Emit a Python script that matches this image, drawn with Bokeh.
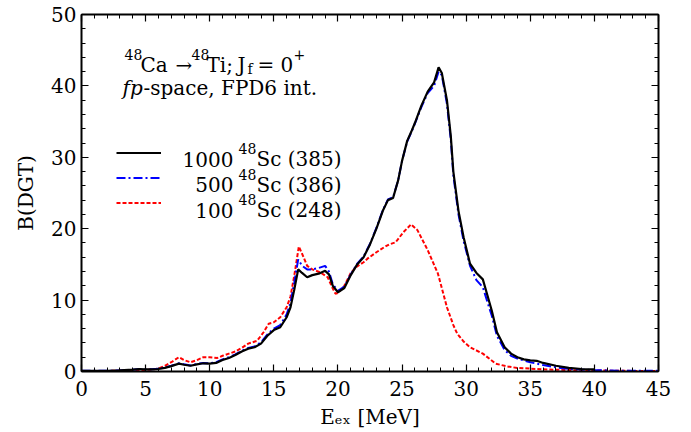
from bokeh.plotting import figure
from bokeh.models import (Range1d, LinearAxis, Label, Legend, LegendItem,
                          FixedTicker, ColumnDataSource)
from bokeh.embed import file_html
from bokeh.resources import INLINE

# ---------------- data ----------------
e_1000 = [0, 1, 2, 3, 4, 4.5, 5, 5.5, 6, 6.5, 7, 7.6, 8, 8.5, 9, 9.5, 10, 10.5,
          11, 11.5, 12, 12.5, 13, 13.5, 14, 14.5, 15, 15.5, 16, 16.3, 16.6, 16.9,
          17.2, 17.6, 18, 18.5, 19, 19.3, 19.6, 20, 20.5, 21, 21.5, 22, 22.5, 23,
          23.5, 23.9, 24.3, 24.7, 25, 25.4, 25.7, 26, 26.5, 27, 27.5, 27.85, 28.1,
          28.5, 28.8, 29, 29.4, 29.8, 30.3, 30.8, 31.3, 31.7, 32, 32.4, 33, 33.5,
          34, 34.5, 35, 35.5, 36, 37, 38, 39, 40]
b_1000 = [0.1, 0.1, 0.1, 0.15, 0.25, 0.35, 0.3, 0.3, 0.35, 0.5, 0.75, 1.1, 0.95,
          0.8, 1.0, 1.15, 1.1, 1.2, 1.6, 1.9, 2.3, 2.8, 3.2, 3.4, 3.9, 5.0, 5.8,
          6.2, 7.6, 9.0, 11.5, 14.3, 13.8, 13.2, 13.5, 13.7, 14.1, 13.6, 12.0,
          11.1, 11.7, 13.5, 15.0, 16.0, 17.8, 20.0, 22.5, 24.0, 24.3, 26.8, 29.5,
          32.3, 33.5, 34.8, 37.2, 39.2, 40.5, 42.6, 41.8, 38.0, 33.0, 28.0, 22.5,
          18.8, 15.1, 13.8, 12.9, 10.4, 8.5, 5.5, 3.4, 2.5, 2.0, 1.7, 1.55, 1.5,
          1.2, 0.8, 0.5, 0.35, 0.3]

e_500 = [0, 1, 2, 3, 4, 4.5, 5, 5.5, 6, 6.5, 7, 7.6, 8, 8.5, 9, 9.5, 10, 10.5,
         11, 11.5, 12, 12.5, 13, 13.5, 14, 14.5, 15, 15.5, 16, 16.3, 16.6, 16.9,
         17.2, 17.6, 18, 18.5, 19, 19.3, 19.6, 20, 20.5, 21, 21.5, 22, 22.5, 23,
         23.5, 23.9, 24.3, 24.7, 25, 25.4, 25.7, 26, 26.5, 27, 27.5, 27.85, 28.1,
         28.5, 28.8, 29, 29.4, 29.8, 30.3, 30.8, 31.3, 31.7, 32, 32.4, 33, 33.5,
         34, 35, 36, 37, 38, 40, 41, 42, 45]
b_500 = [0.1, 0.1, 0.1, 0.15, 0.25, 0.35, 0.3, 0.3, 0.4, 0.55, 0.8, 1.15, 1.0,
         0.85, 1.05, 1.2, 1.15, 1.3, 1.7, 2.0, 2.4, 2.9, 3.3, 3.5, 4.1, 5.2, 6.0,
         6.5, 8.0, 9.6, 12.5, 15.7, 14.8, 14.3, 14.3, 14.5, 14.8, 14.0, 12.2,
         11.3, 11.9, 13.6, 15.1, 16.1, 17.9, 20.1, 22.6, 24.1, 24.4, 26.8, 29.5,
         32.2, 33.4, 34.7, 37.0, 39.0, 40.0, 42.0, 41.5, 37.5, 32.5, 27.5, 22.0,
         18.3, 14.8, 12.8, 11.8, 9.5, 7.8, 5.0, 3.0, 2.2, 1.8, 1.3, 0.9, 0.6,
         0.35, 0.2, 0.15, 0.1, 0.1]

e_100 = [0, 3, 5, 6, 6.5, 7, 7.6, 8, 8.5, 9, 9.5, 10, 10.6, 11, 11.5, 12, 12.5,
         13, 13.7, 14.2, 14.6, 15, 15.5, 16, 16.3, 16.6, 16.95, 17.2, 17.6, 18,
         18.6, 19.2, 19.5, 19.8, 20, 20.5, 21, 21.4, 22, 22.3, 23, 23.6, 24, 24.5,
         25.1, 25.7, 26.2, 27.0, 27.8, 28.5, 29, 29.3, 29.8, 30.3, 31.3, 32.3,
         33.2, 34, 35, 36, 38, 40, 42, 45]
b_100 = [0.05, 0.1, 0.2, 0.4, 0.8, 1.3, 2.0, 1.6, 1.3, 1.6, 2.0, 2.0, 1.9, 2.2,
         2.5, 2.8, 3.3, 3.9, 4.3, 5.5, 6.7, 6.9, 7.6, 9.0, 10.5, 13.5, 17.5, 16.5,
         14.8, 14.3, 13.9, 13.2, 12.0, 10.9, 11.0, 12.0, 13.8, 14.6, 15.3, 15.8,
         16.7, 17.4, 17.8, 18.1, 19.5, 20.6, 19.8, 17.0, 13.7, 9.0, 6.5, 5.3, 4.2,
         3.4, 2.5, 1.1, 0.7, 0.5, 0.4, 0.3, 0.2, 0.15, 0.1, 0.05]

# legend texts: number of samples, nucleus, number of states
series_counts = ["1000", "500", "100"]
series_nucleus = "Sc"
series_states = ["(385)", "(386)", "(248)"]
x_ticks = [0, 5, 10, 15, 20, 25, 30, 35, 40, 45]
y_ticks = [0, 10, 20, 30, 40, 50]
x_label = "E\u2091\u2093 [MeV]"
y_label = "B(DGT)"

FONT = "DejaVu Serif"
FS = "20px"
FS_SMALL = "14px"

# frame geometry (pixels) used to place the free-floating texts
FL, FR, FT, FB = 81, 658, 14, 371
XMAX, YMAX = 45.0, 50.0


def px2x(px):
    return (px - FL) * XMAX / (FR - FL)


def py2y(py):
    return (FB - py) * YMAX / (FB - FT)


p = figure(width=691, height=432, output_backend="svg", toolbar_location=None,
           x_range=Range1d(0, XMAX), y_range=Range1d(0, YMAX),
           min_border_left=FL, min_border_right=691 - FR,
           min_border_top=FT, min_border_bottom=432 - FB,
           background_fill_color="white", border_fill_color="white")
p.outline_line_color = None
p.grid.visible = False

src_1000 = ColumnDataSource(dict(x=e_1000, y=b_1000))
src_500 = ColumnDataSource(dict(x=e_500, y=b_500))
src_100 = ColumnDataSource(dict(x=e_100, y=b_100))

r100 = p.line("x", "y", source=src_100, line_color="#ff0000", line_width=2,
              line_dash="4 2")
r500 = p.line("x", "y", source=src_500, line_color="#0000ff", line_width=2,
              line_dash="9 3 2 3")
r1000 = p.line("x", "y", source=src_1000, line_color="black", line_width=2.2)


def style_axis(ax, show_labels):
    ax.axis_line_width = 2
    ax.axis_line_color = "black"
    ax.major_tick_in = 7
    ax.major_tick_out = 0
    ax.minor_tick_in = 4
    ax.minor_tick_out = 0
    ax.major_tick_line_width = 1.2
    ax.minor_tick_line_width = 1
    ax.major_tick_line_color = "black"
    ax.minor_tick_line_color = "black"
    ax.major_label_text_font = FONT
    if show_labels:
        ax.major_label_text_font_size = FS
        ax.major_label_text_color = "black"
    else:
        ax.major_label_text_font_size = "1px"
        ax.major_label_text_color = None
        ax.major_label_standoff = 0


xa = p.xaxis[0]
ya = p.yaxis[0]
xa.ticker = FixedTicker(ticks=x_ticks, minor_ticks=list(range(0, 46)))
ya.ticker = FixedTicker(ticks=y_ticks, minor_ticks=list(range(0, 51, 2)))
style_axis(xa, True)
style_axis(ya, True)
xa.major_label_standoff = 9
ya.major_label_standoff = 5
for ax, lab, st in ((xa, x_label, 6), (ya, y_label, 10)):
    ax.axis_label = lab
    ax.axis_label_text_font = FONT
    ax.axis_label_text_font_size = FS
    ax.axis_label_text_font_style = "normal"
    ax.axis_label_text_color = "black"
    ax.axis_label_standoff = st

top = LinearAxis(ticker=FixedTicker(ticks=x_ticks, minor_ticks=list(range(0, 46))))
right = LinearAxis(ticker=FixedTicker(ticks=y_ticks, minor_ticks=list(range(0, 51, 2))))
style_axis(top, False)
style_axis(right, False)
p.add_layout(top, "above")
p.add_layout(right, "right")

# legend: line samples only (its own label text is not drawn);
# the visible label texts are placed next to it below
legend = Legend(items=[LegendItem(label=series_counts[i], renderers=[r])
                       for i, r in enumerate([r1000, r500, r100])],
                location=(35, 156))
legend.border_line_alpha = 0
legend.background_fill_alpha = 0
legend.padding = 0
legend.margin = 0
legend.spacing = 0
legend.glyph_width = 45
legend.glyph_height = 25
legend.label_height = 25
legend.label_standoff = 26
legend.label_text_font = FONT
legend.label_text_font_size = "1px"
legend.label_text_color = None
p.add_layout(legend)


def put(text, px, py, size=FS, style="normal", align="left"):
    p.add_layout(Label(x=px2x(px), y=py2y(py), text=text, text_font=FONT,
                       text_font_size=size, text_font_style=style,
                       text_align=align, text_baseline="alphabetic",
                       text_color="black"))


ROW_BASE = [158.5, 184, 209.5]   # pixel baselines of the legend rows
for rb, cnt, st in zip(ROW_BASE, series_counts, series_states):
    put(cnt, 233, rb, align="right")
    put("48", 238, rb - 10.5, FS_SMALL)
    put(series_nucleus + " " + st, 256, rb)

# annotation line 1: 48Ca -> 48Ti; J_f = 0+
put("48", 124, 54, FS_SMALL)
put("Ca", 140, 64)
put("\u2192", 175, 64)
put("48", 191, 54, FS_SMALL)
put("Ti;", 206, 64)
put("J", 237, 64)
put("f", 247, 68, FS_SMALL)
put("=", 257, 64)
put("0", 280, 64)
put("+", 293, 54, FS_SMALL)
# annotation line 2
put("fp", 122, 87, style="italic")
put("-space, FPD6 int.", 143, 87)

open("out.html", "w").write(file_html(p, INLINE))
